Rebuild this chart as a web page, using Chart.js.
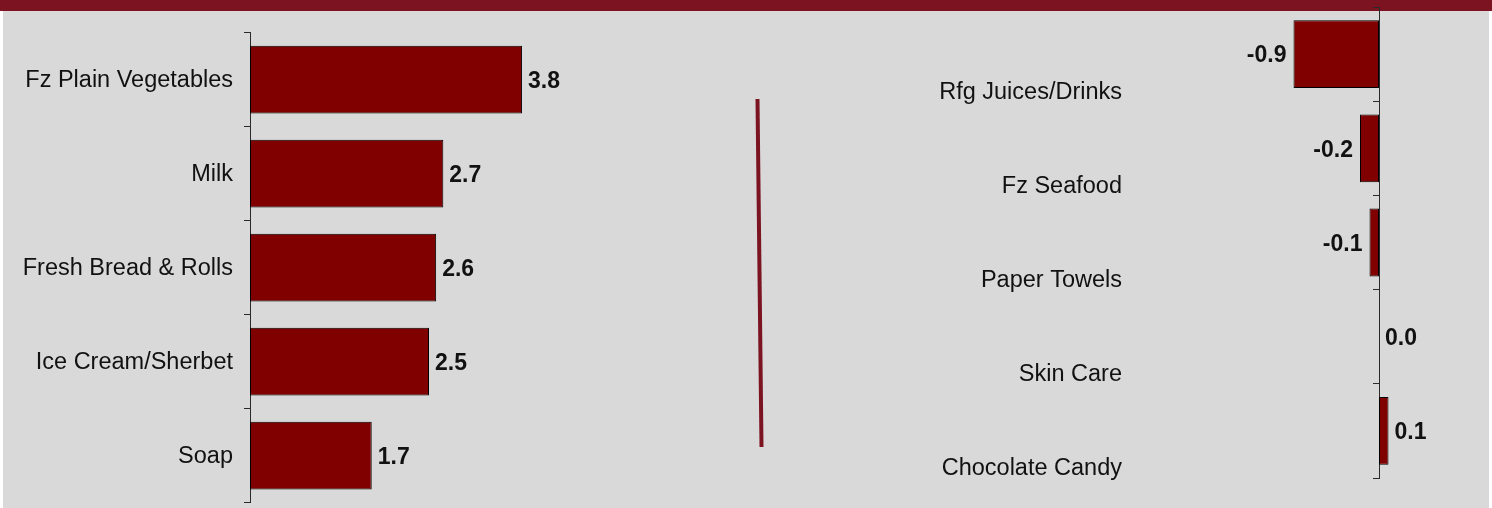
<!DOCTYPE html>
<html>
<head>
<meta charset="utf-8">
<script src="https://cdn.jsdelivr.net/npm/chart.js@4/dist/chart.umd.min.js"></script>
<style>
  html, body { margin: 0; padding: 0; background: #ffffff; overflow: hidden; }
  #stage { position: relative; width: 1492px; height: 508px; }
  #panel { position: absolute; left: 3px; top: 11px; width: 1486px; height: 497px; background: #d9d9d9; }
  #band { position: absolute; left: 0; top: 0; width: 1492px; height: 11px; background: #7b1321; }
  #divider { position: absolute; left: 0; top: 0; }
  .box { position: absolute; top: 0; height: 508px; }
  #leftBox { left: 0; width: 740px; }
  #rightBox { left: 780px; width: 712px; }
</style>
</head>
<body>
<div id="stage">
  <div id="panel"></div>
  <div id="band"></div>
  <svg id="divider" width="1492" height="508">
    <line x1="757.5" y1="99" x2="761.5" y2="447" stroke="#7b1321" stroke-width="4"/>
  </svg>
  <div class="box" id="leftBox"><canvas id="leftChart"></canvas></div>
  <div class="box" id="rightBox"><canvas id="rightChart"></canvas></div>
</div>
<script>
// Top categories by change
const gainCategories = ["Fz Plain Vegetables", "Milk", "Fresh Bread & Rolls", "Ice Cream/Sherbet", "Soap"];
const gainValues = [3.8, 2.7, 2.6, 2.5, 1.7];

// Bottom categories by change
const lossCategories = ["Rfg Juices/Drinks", "Fz Seafood", "Paper Towels", "Skin Care", "Chocolate Candy"];
const lossValues = [-0.9, -0.2, -0.1, 0.0, 0.1];

const FONT = "'Liberation Sans', Arial, Helvetica, sans-serif";
const BAR_FILL = '#800000';
const BAR_EDGE = '#000000';
const AXIS = '#2a2a2a';

// Writes each bar's value next to its end
const valueLabels = {
  id: 'valueLabels',
  afterDatasetsDraw(chart) {
    const ctx = chart.ctx;
    ctx.save();
    ctx.font = "bold 23px " + FONT;
    ctx.fillStyle = '#111111';
    ctx.textBaseline = 'middle';
    chart.data.datasets.forEach((ds, di) => {
      chart.getDatasetMeta(di).data.forEach((bar, i) => {
        const v = ds.data[i];
        const txt = v.toFixed(1);
        if (v < 0) {
          ctx.textAlign = 'right';
          ctx.fillText(txt, bar.x - 7, bar.y + 2);
        } else {
          ctx.textAlign = 'left';
          ctx.fillText(txt, bar.x + 6, bar.y + 2);
        }
      });
    });
    ctx.restore();
  }
};

function makeChart(id, labels, values, cfg) {
  return new Chart(document.getElementById(id), {
    type: 'bar',
    data: {
      labels: labels,
      datasets: [{
        data: values,
        backgroundColor: BAR_FILL,
        borderColor: BAR_EDGE,
        borderWidth: 1,
        borderSkipped: false,
        barPercentage: 0.72,
        categoryPercentage: 1.0,
        clip: false
      }]
    },
    options: {
      indexAxis: 'y',
      responsive: true,
      maintainAspectRatio: false,
      animation: false,
      events: [],
      layout: { padding: cfg.padding },
      plugins: { legend: { display: false }, tooltip: { enabled: false } },
      scales: {
        x: {
          display: false,
          min: cfg.xMin,
          max: cfg.xMax
        },
        y: {
          position: 'left',
          offset: true,
          border: { display: true, color: AXIS, width: 1 },
          grid: {
            display: true,
            drawOnChartArea: false,
            drawTicks: true,
            tickLength: 6,
            tickWidth: 1,
            tickColor: AXIS,
            offset: true
          },
          ticks: {
            color: '#111111',
            font: { family: FONT, size: 23.5 },
            padding: cfg.labelPad,
            labelOffset: cfg.labelShift,
            autoSkip: false
          },
          afterFit(scale) {
            scale.width = cfg.axisX;
            scale.paddingTop = 0;
            scale.paddingBottom = 0;
          }
        }
      }
    },
    plugins: [valueLabels]
  });
}

// Left panel: axis at x=250, 0..6 across the plot
makeChart('leftChart', gainCategories, gainValues, {
  padding: { top: 32.7, bottom: 5.3, left: 0, right: 60.4 },
  xMin: 0, xMax: 6,
  axisX: 250,
  labelPad: 11,
  labelShift: 1
});

// Right panel: category axis sits on zero, bars may reach left of it
makeChart('rightChart', lossCategories, lossValues, {
  padding: { top: 7, bottom: 30, left: 0, right: 18 },
  xMin: 0, xMax: 1,
  axisX: 599,
  labelPad: 251,
  labelShift: 38
});
</script>
</body>
</html>
